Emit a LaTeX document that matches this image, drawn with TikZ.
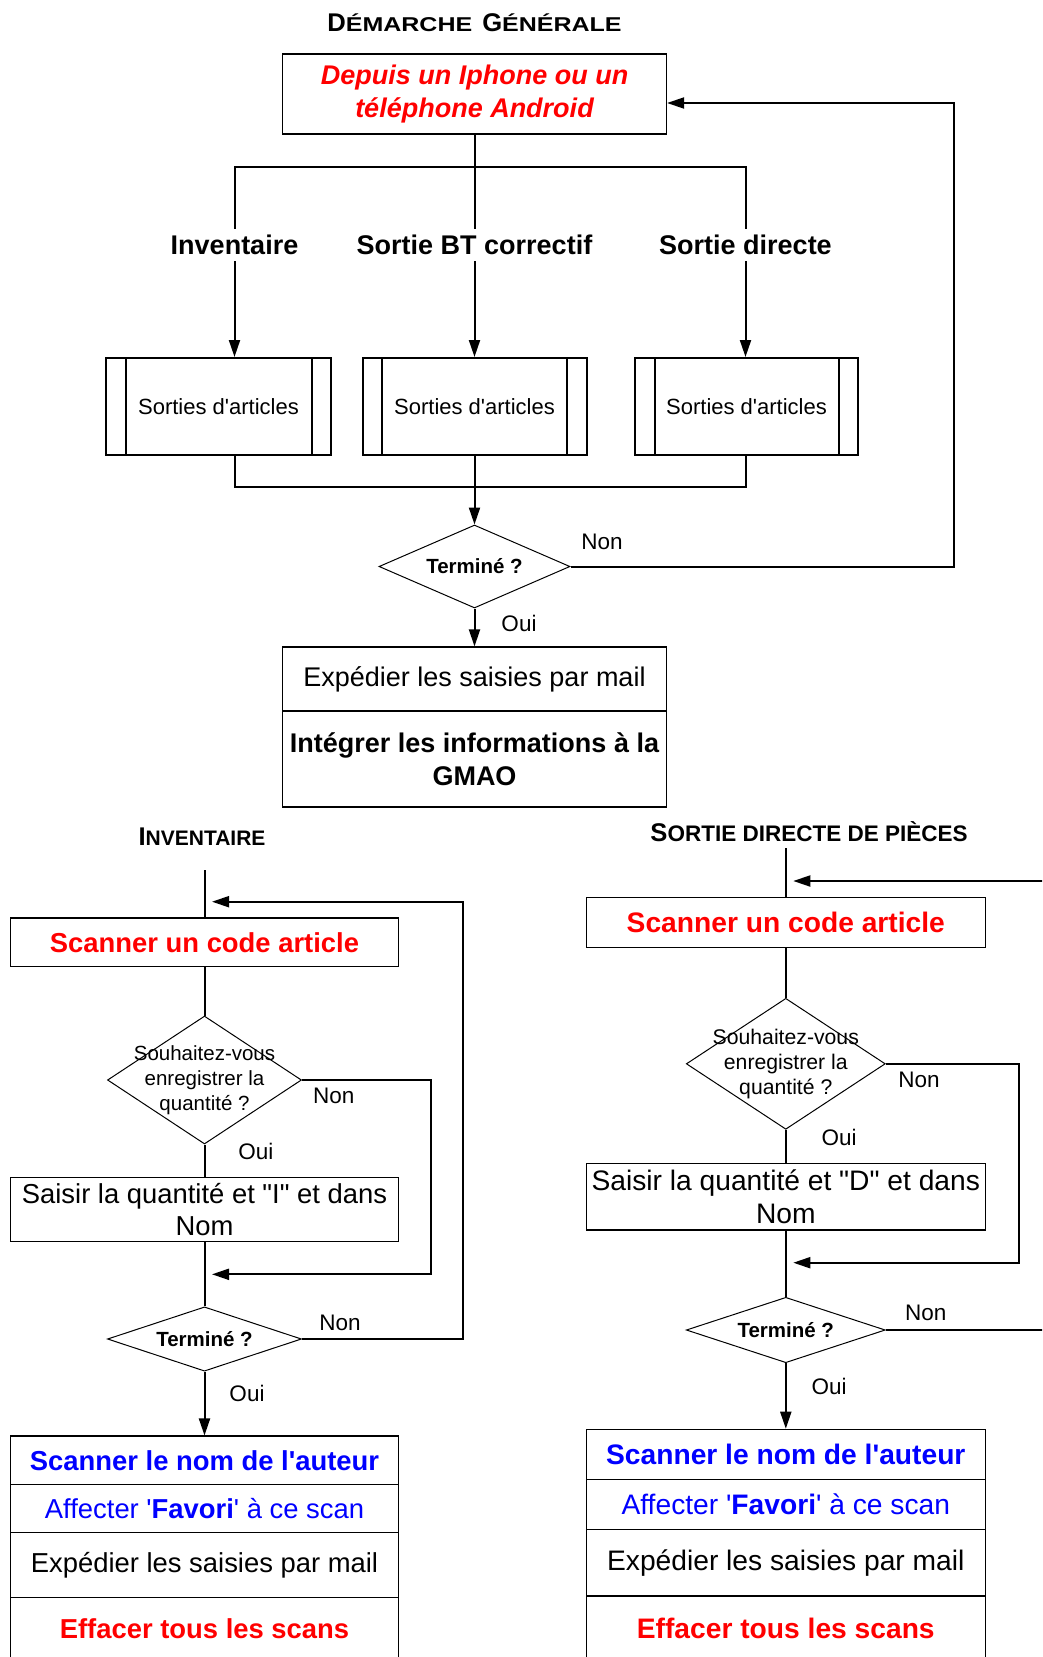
\documentclass[tikz,border=0pt]{standalone}
\usepackage{fontspec}
\setmainfont{Liberation Sans}
\usepackage{graphicx}
\usetikzlibrary{arrows.meta,shapes.geometric}
\definecolor{fred}{RGB}{255,0,0}
\definecolor{fblue}{RGB}{0,0,255}
\begin{document}
\begin{tikzpicture}[x=1pt,y=-1pt,
  conn/.style={line width=2pt},
  arr/.style={line width=2pt,-{Triangle[length=17pt,width=11pt]}},
  box/.style={draw, line width=1.2pt, inner sep=2pt, align=center},
  fT/.style={font=\fontsize{27}{32.7}\selectfont},
  fTb/.style={font=\fontsize{27}{32.7}\selectfont\bfseries},
  fL/.style={font=\fontsize{27.4}{32.7}\selectfont},
  fLb/.style={font=\fontsize{27.4}{32.7}\selectfont\bfseries},
  fR/.style={font=\fontsize{28.2}{33}\selectfont},
  fRb/.style={font=\fontsize{28.2}{33}\selectfont\bfseries},
  pbox/.style={draw, line width=2pt, inner sep=0pt, font=\fontsize{22}{26}\selectfont, minimum height=97pt,
    path picture={
      \draw[line width=2pt] ([xshift=19.5pt]path picture bounding box.north west) -- ([xshift=19.5pt]path picture bounding box.south west);
      \draw[line width=2pt] ([xshift=-19.5pt]path picture bounding box.north east) -- ([xshift=-19.5pt]path picture bounding box.south east);}},
  dia/.style={draw, diamond, inner sep=0pt, line width=1pt},
  qfontL/.style={font=\fontsize{20.5}{25}\selectfont, align=center, inner sep=0pt},
  qfontR/.style={font=\fontsize{21.2}{25}\selectfont, align=center, inner sep=0pt},
  tfont/.style={font=\fontsize{20.5}{24}\selectfont\bfseries, inner sep=0pt},
  ans/.style={font=\fontsize{22.5}{26}\selectfont, inner sep=0pt},
  lab/.style={font=\fontsize{27}{31.5}\selectfont\bfseries, inner xsep=2pt, inner ysep=6pt},
  ttlstyle/.style={anchor=base, inner sep=0pt, font=\bfseries},
]
\useasboundingbox (0,0) rectangle (1042,1657);
\clip (0,0) rectangle (1042,1657);

% ---------- General ----------
\node[ttlstyle] (ttl) at (474.5,31.7) {\fontsize{25.6}{30}\selectfont D\fontsize{20}{24}\selectfont\scalebox{1.25}[1]{ÉMARCHE}\hspace{10pt}\fontsize{25.6}{30}\selectfont G\fontsize{20}{24}\selectfont\scalebox{1.25}[1]{ÉNÉRALE}};

\node[box, minimum width=384pt, minimum height=80pt, text=fred, font=\fontsize{27}{33}\selectfont\bfseries\itshape] (dep) at (474.5,94) {Depuis un Iphone ou un\\téléphone Android};

\node[lab] (lInv) at (234.5,245) {Inventaire};
\node[lab] (lBT) at (474.5,245) {Sortie BT correctif};
\node[lab] (lDir) at (745.5,245) {Sortie directe};
\coordinate (brL) at (234.5,167);
\coordinate (brR) at (745.5,167);
\draw[conn] (dep.south) -- (lBT.north);
\draw[conn] (lInv.north) -- (brL) -- (brR) -- (lDir.north);

\node[pbox, minimum width=225pt] (s1) at (218.5,406.5) {Sorties d\textquotesingle articles};
\node[pbox, minimum width=224pt] (s2) at (474.5,406.5) {Sorties d\textquotesingle articles};
\node[pbox, minimum width=223pt] (s3) at (746.5,406.5) {Sorties d\textquotesingle articles};

\draw[arr] (lInv.south) -- (lInv.south |- s1.north);
\draw[arr] (lBT.south) -- (s2.north);
\draw[arr] (lDir.south) -- (lDir.south |- s3.north);

\coordinate (mL) at (234.5,487);
\coordinate (mR) at (745.5,487);
\draw[conn] (lInv.south |- s1.south) -- (mL) -- (mR) -- (lDir.south |- s3.south);

\node[dia, minimum width=191pt, minimum height=83pt, label={[name=d0t, tfont]center:Terminé ?}] (d0) at (474.5,566.5) {};
\draw[arr] (s2.south) -- (d0.north);
\node[ans] (n0) at (602,542) {Non};
\coordinate (nR) at (953.5,103);
\draw[arr] (d0.east) -| (nR) -- (dep.east |- nR);
\node[ans] (o0) at (519,623) {Oui};

\node[box, fT, minimum width=384pt, minimum height=64pt] (e1) at (474.5,679) {Expédier les saisies par mail};
\node[box, fTb, minimum width=384pt, minimum height=96pt] (e2) at (474.5,759) {Intégrer les informations à la\\GMAO};
\draw[arr] (d0.south) -- (e1.north);

% ---------- Inventaire ----------
\node[ttlstyle] (tinv) at (202,845) {\fontsize{25.6}{30}\selectfont I\fontsize{21}{25}\selectfont NVENTAIRE};

\coordinate (iTop) at (204.5,870);
\node[box, fLb, minimum width=388pt, minimum height=48.7pt, text=fred] (sc1) at (204.5,942.3) {Scanner un code article};
\draw[conn] (iTop) -- (sc1.north);

\node[dia, minimum width=194pt, minimum height=128pt, label={[name=q1t, qfontL]center:Souhaitez-vous\\enregistrer la\\quantité ?}] (q1) at (204.5,1080) {};
\draw[conn] (sc1.south) -- (q1.north);
\node[ans] (n1) at (333.7,1095.7) {Non};
\node[ans] (o1) at (255.8,1151.7) {Oui};

\node[box, fL, minimum width=388pt, minimum height=64.4pt] (sa1) at (204.5,1209.5) {Saisir la quantité et \textquotedbl I\textquotedbl{} et dans\\Nom};
\draw[conn] (q1.south) -- (sa1.north);
\coordinate (l1a) at (431,1274.3);
\coordinate (l1b) at (212,1274.3);
\draw[arr] (q1.east) -| (l1a) -- (l1b);

\node[dia, minimum width=194pt, minimum height=64.3pt, label={[name=t1t, tfont]center:Terminé ?}] (t1) at (204.5,1339) {};
\draw[conn] (sa1.south) -- (t1.north);
\node[ans] (n2) at (340,1322.7) {Non};
\coordinate (l2a) at (462.7,901.7);
\coordinate (l2b) at (212,901.7);
\draw[arr] (t1.east) -| (l2a) -- (l2b);
\node[ans] (o2) at (247,1393.3) {Oui};

\node[box, fLb, minimum width=387.4pt, minimum height=48.3pt, text=fblue] (a1) at (204.5,1460.2) {Scanner le nom de l\textquotesingle auteur};
\node[box, fL, minimum width=387.4pt, minimum height=48.4pt, text=fblue] (a2) at (204.5,1508.5) {Affecter \textquotesingle\textbf{Favori}\textquotesingle{} à ce scan};
\node[box, fL, minimum width=387.4pt, minimum height=64.6pt] (a3) at (204.5,1565) {Expédier les saisies par mail};
\node[box, fLb, minimum width=387.4pt, minimum height=62pt, text=fred] (a4) at (204.5,1628.3) {Effacer tous les scans};
\draw[arr] (t1.south) -- (a1.north);

% ---------- Sortie directe ----------
\node[ttlstyle] (tsd) at (809,841.7) {\fontsize{25.6}{30}\selectfont S\fontsize{22.5}{26}\selectfont ORTIE DIRECTE DE PIÈCES};

\coordinate (rTop) at (785.8,848);
\node[box, fRb, minimum width=399pt, minimum height=49.6pt, text=fred] (sc2) at (785.8,922.5) {Scanner un code article};
\draw[conn] (rTop) -- (sc2.north);
\coordinate (rInA) at (1050,881);
\coordinate (rInB) at (793.3,881);
\draw[arr] (rInA) -- (rInB);

\node[dia, minimum width=199pt, minimum height=131pt, label={[name=q2t, qfontR]center:Souhaitez-vous\\enregistrer la\\quantité ?}] (q2) at (785.8,1063.8) {};
\draw[conn] (sc2.south) -- (q2.north);
\node[ans] (n3) at (919,1080) {Non};
\node[ans] (o3) at (839,1137.3) {Oui};

\node[box, fR, minimum width=399pt, minimum height=66.3pt] (sa2) at (785.8,1196.85) {Saisir la quantité et \textquotedbl D\textquotedbl{} et dans\\Nom};
\draw[conn] (q2.south) -- (sa2.north);
\coordinate (l3a) at (1019,1262.7);
\coordinate (l3b) at (793.3,1262.7);
\draw[arr] (q2.east) -| (l3a) -- (l3b);

\node[dia, minimum width=199pt, minimum height=65.4pt, label={[name=t2t, tfont]center:Terminé ?}] (t2) at (785.8,1330) {};
\draw[conn] (sa2.south) -- (t2.north);
\node[ans] (n4) at (925.7,1313.3) {Non};
\coordinate (rOut) at (1050,1330);
\draw[conn] (t2.east) -- (rOut);
\node[ans] (o4) at (829,1386.7) {Oui};

\node[box, fRb, minimum width=398.7pt, minimum height=50pt, text=fblue] (b1) at (785.8,1454.3) {Scanner le nom de l\textquotesingle auteur};
\node[box, fR, minimum width=398.7pt, minimum height=50pt, text=fblue] (b2) at (785.8,1504.3) {Affecter \textquotesingle\textbf{Favori}\textquotesingle{} à ce scan};
\node[box, fR, minimum width=398.7pt, minimum height=66.7pt] (b3) at (785.8,1562.65) {Expédier les saisies par mail};
\node[box, fRb, minimum width=398.7pt, minimum height=64.6pt, text=fred] (b4) at (785.8,1628.3) {Effacer tous les scans};
\draw[arr] (t2.south) -- (b1.north);
\end{tikzpicture}
\end{document}
